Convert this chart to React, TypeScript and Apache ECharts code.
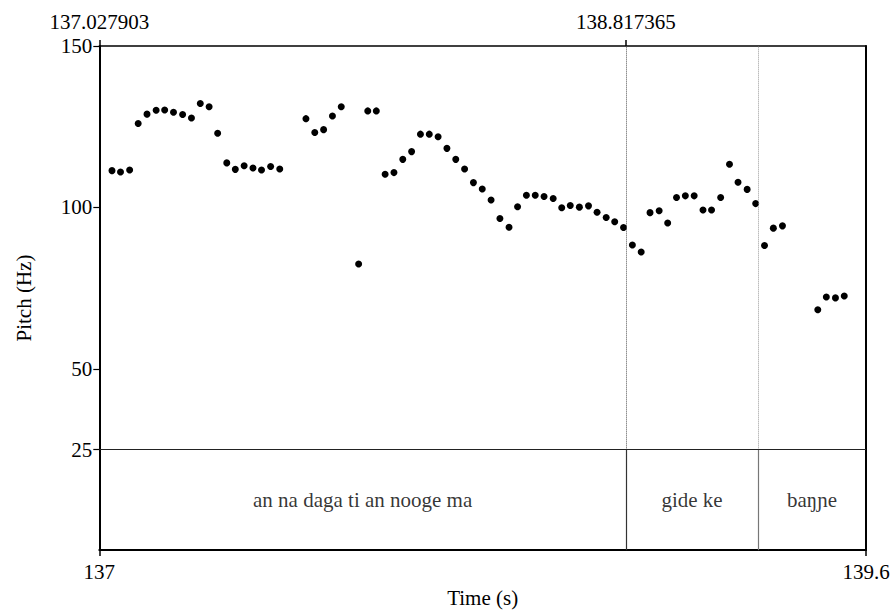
import React, { useEffect, useRef } from "react";
import * as echarts from "echarts";

// Pitch track (time in s, pitch in Hz)
const times = [
  137.071, 137.1, 137.131, 137.16, 137.19, 137.221, 137.25, 137.28, 137.311, 137.341,
  137.371, 137.401, 137.43, 137.461, 137.49, 137.52, 137.55, 137.579, 137.61, 137.641,
  137.73, 137.76, 137.79, 137.82, 137.85, 137.909, 137.94, 137.969, 137.999,
  138.029, 138.059, 138.089, 138.119, 138.149, 138.179, 138.209, 138.239, 138.269, 138.299,
  138.329, 138.359, 138.389, 138.42, 138.449, 138.479, 138.509, 138.539, 138.57, 138.599,
  138.628, 138.659, 138.69, 138.719, 138.75, 138.779, 138.809, 138.839, 138.869, 138.899,
  138.93, 138.959, 138.989, 139.019, 139.049, 139.079, 139.108, 139.139, 139.169, 139.198,
  139.229, 139.258, 139.288, 139.318, 139.349, 139.469, 139.498, 139.529, 139.559,
];
const pitch = [
  111.4, 111.0, 111.6, 126.0, 128.9, 130.1, 130.2, 129.5, 128.8, 127.7,
  132.2, 131.2, 123.0, 113.8, 111.8, 112.9, 112.2, 111.6, 112.7, 111.9,
  127.5, 123.2, 124.1, 128.3, 131.2, 82.5, 129.9, 129.9, 110.3,
  110.8, 114.9, 117.3, 122.7, 122.7, 121.9, 118.3, 114.9, 111.9, 107.7,
  105.7, 102.3, 96.6, 93.9, 100.2, 103.8, 103.8, 103.4, 102.8, 99.9,
  100.6, 100.1, 100.5, 98.5, 96.9, 95.6, 93.8, 88.4, 86.2, 98.4,
  99.0, 95.2, 103.1, 103.6, 103.6, 99.2, 99.2, 103.1, 113.4, 107.8,
  105.6, 101.2, 88.2, 93.6, 94.3, 68.3, 72.3, 72.0, 72.6,
];

// TextGrid tier
const boundaries = [137.027903, 138.817365, 139.2659, 139.6328];
const tierLabels = ["an na daga ti an nooge ma", "gide ke", "baŋɲe"];

// Axis ticks
const yTicks = [25, 50, 100, 150];
const bottomTickValues = [137.027903, 139.6328];
const bottomTickLabels = ["137", "139.6"];
const topTickValues = [137.027903, 138.817365];
const topTickLabels = ["137.027903", "138.817365"];

const X_MIN = boundaries[0];
const X_MAX = boundaries[boundaries.length - 1];
const Y_MIN = -6.1;
const Y_MAX = 150;
const PITCH_FLOOR = 25;
const TIER_TEXT_Y = 9.45;

const FONT = "Liberation Serif";
const FS = 21;
const LH = 19;

function nearestLabel(v: number, vals: number[], labs: string[]) {
  let best = 0;
  for (let i = 1; i < vals.length; i++) {
    if (Math.abs(vals[i] - v) < Math.abs(vals[best] - v)) best = i;
  }
  return labs[best];
}

export default function App() {
  const ref = useRef<HTMLDivElement>(null);

  useEffect(() => {
    if (!ref.current) return;
    const chart = echarts.init(ref.current, null, { renderer: "svg" });

    const tierData = tierLabels.map((lab, i) => ({
      value: [(boundaries[i] + boundaries[i + 1]) / 2, TIER_TEXT_Y],
      name: lab,
    }));

    const inner = boundaries.slice(1, boundaries.length - 1);
    const pitchColors = ["#555", "#999"];
    const tierColors = ["#333", "#777"];
    const markLines: any[] = [];
    inner.forEach((b, i) => {
      markLines.push([
        { coord: [b, PITCH_FLOOR], lineStyle: { type: "dotted", color: pitchColors[i], width: 1 } },
        { coord: [b, Y_MAX] },
      ]);
      markLines.push([
        { coord: [b, Y_MIN], lineStyle: { type: "solid", color: tierColors[i], width: 1.2 } },
        { coord: [b, PITCH_FLOOR] },
      ]);
    });
    markLines.push([
      { coord: [X_MIN, PITCH_FLOOR], lineStyle: { type: "solid", color: "#222", width: 1 } },
      { coord: [X_MAX, PITCH_FLOOR] },
    ]);

    const textStyle = { fontFamily: FONT, fontSize: FS, color: "#000", lineHeight: LH };

    chart.setOption({
      animation: false,
      backgroundColor: "#fff",
      textStyle: { fontFamily: FONT, fontSize: FS, color: "#000" },
      grid: { left: 99.3, right: 27, top: 46, bottom: 54.7, containLabel: false },
      xAxis: [
        {
          type: "value",
          position: "bottom",
          min: X_MIN,
          max: X_MAX,
          name: "Time (s)",
          nameLocation: "middle",
          nameGap: 35,
          nameTextStyle: textStyle,
          axisLine: { show: true, onZero: false, lineStyle: { color: "#000", width: 2 } },
          axisTick: { show: true, length: 6, customValues: bottomTickValues, lineStyle: { color: "#000", width: 1.5 } },
          axisLabel: {
            show: true,
            customValues: bottomTickValues,
            showMinLabel: true,
            showMaxLabel: true,
            hideOverlap: false,
            margin: 12,
            ...textStyle,
            formatter: (v: number) => nearestLabel(v, bottomTickValues, bottomTickLabels),
          },
          splitLine: { show: false },
        },
        {
          type: "value",
          position: "top",
          min: X_MIN,
          max: X_MAX,
          axisLine: { show: true, onZero: false, lineStyle: { color: "#000", width: 1.5 } },
          axisTick: { show: true, length: 6, customValues: topTickValues, lineStyle: { color: "#000", width: 1.5 } },
          axisLabel: {
            show: true,
            customValues: topTickValues,
            showMinLabel: true,
            showMaxLabel: true,
            hideOverlap: false,
            margin: 15,
            ...textStyle,
            formatter: (v: number) => nearestLabel(v, topTickValues, topTickLabels),
          },
          splitLine: { show: false },
        },
      ],
      yAxis: [
        {
          type: "value",
          position: "left",
          min: Y_MIN,
          max: Y_MAX,
          name: "Pitch (Hz)",
          nameLocation: "middle",
          nameGap: 66,
          nameTextStyle: textStyle,
          axisLine: { show: true, onZero: false, lineStyle: { color: "#000", width: 2 } },
          axisTick: { show: true, length: 6, customValues: yTicks, lineStyle: { color: "#000", width: 1.2 } },
          axisLabel: {
            show: true,
            customValues: yTicks,
            margin: 7,
            ...textStyle,
          },
          splitLine: { show: false },
        },
        {
          type: "value",
          position: "right",
          min: Y_MIN,
          max: Y_MAX,
          axisLine: { show: true, onZero: false, lineStyle: { color: "#000", width: 2 } },
          axisTick: { show: false },
          axisLabel: { show: false },
          splitLine: { show: false },
        },
      ],
      series: [
        {
          type: "scatter",
          xAxisIndex: 0,
          yAxisIndex: 0,
          symbol: "circle",
          symbolSize: 7,
          itemStyle: { color: "#000", opacity: 1 },
          data: times.map((t, i) => [t, pitch[i]]),
          silent: true,
        },
        {
          type: "scatter",
          xAxisIndex: 0,
          yAxisIndex: 0,
          symbol: "circle",
          symbolSize: 1,
          itemStyle: { color: "rgba(0,0,0,0)" },
          data: tierData,
          silent: true,
          label: {
            show: true,
            position: "inside",
            fontFamily: FONT,
            fontSize: FS,
            lineHeight: LH,
            color: "#000",
            textBorderWidth: 0,
            formatter: "{b}",
          },
          markLine: {
            silent: true,
            symbol: ["none", "none"],
            label: { show: false },
            data: markLines,
          },
        },
      ],
    });

    return () => chart.dispose();
  }, []);

  return (
    <div
      ref={ref}
      style={{ position: "fixed", left: 0, top: 0, width: 893, height: 613, background: "#fff" }}
    />
  );
}
